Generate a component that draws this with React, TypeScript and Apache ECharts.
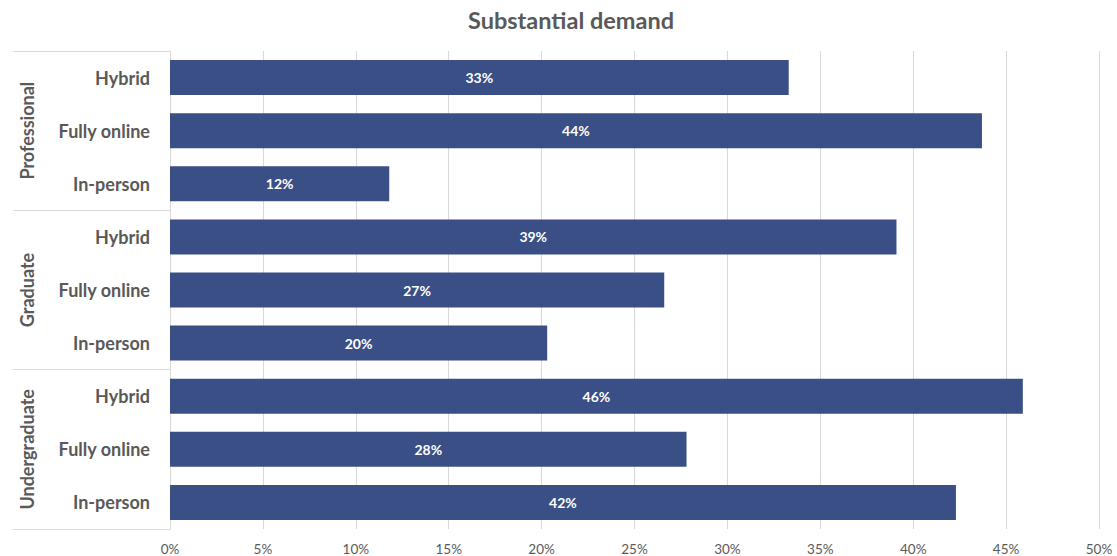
import React, { useEffect, useRef } from "react";
import * as echarts from "echarts";

const groups = ["Professional", "Graduate", "Undergraduate"];
const modes = [
  "Hybrid", "Fully online", "In-person",
  "Hybrid", "Fully online", "In-person",
  "Hybrid", "Fully online", "In-person",
];
const values = [33.3, 43.7, 11.8, 39.1, 26.6, 20.3, 45.9, 27.8, 42.3];
const xTicks = [0, 5, 10, 15, 20, 25, 30, 35, 40, 45, 50];

const TEXT = "#595959";
const GRID = "#d9d9d9";
const BAR = "#3a4f86";
const FONT = "Lato, 'Open Sans', sans-serif";

export default function App() {
  const ref = useRef<HTMLDivElement>(null);
  useEffect(() => {
    if (!ref.current) return;
    const chart = echarts.init(ref.current, undefined, { renderer: "svg" });
    chart.setOption({
      animation: false,
      textStyle: { fontFamily: FONT },
      title: {
        text: "Substantial demand",
        left: 566,
        textAlign: "center",
        top: 3,
        textStyle: { color: TEXT, fontSize: 23.5, fontWeight: "bold", fontFamily: FONT },
      },
      grid: { left: 170, right: 18, top: 51, bottom: 27, containLabel: false },
      xAxis: {
        type: "value",
        min: xTicks[0],
        max: xTicks[xTicks.length - 1],
        interval: 5,
        axisLine: { show: false },
        axisTick: { show: false },
        splitLine: { lineStyle: { color: GRID, width: 1 } },
        axisLabel: {
          color: TEXT,
          fontSize: 13.5,
          margin: 13,
          fontFamily: FONT,
          formatter: (v: number) => `${v}%`,
        },
      },
      yAxis: [
        {
          type: "category",
          data: modes,
          inverse: true,
          position: "left",
          axisLine: { show: true, lineStyle: { color: GRID, width: 1 } },
          axisTick: { show: false },
          axisLabel: {
            color: TEXT,
            fontSize: 18,
            fontWeight: "bold",
            margin: 20,
            fontFamily: FONT,
            interval: 0,
          },
        },
        {
          type: "category",
          data: groups,
          inverse: true,
          position: "left",
          axisLine: { show: false },
          axisTick: { show: true, length: 157, interval: 0, lineStyle: { color: GRID, width: 1 } },
          axisLabel: {
            color: TEXT,
            fontSize: 18,
            fontWeight: "bold",
            rotate: 90,
            margin: 134,
            fontFamily: FONT,
            interval: 0,
          },
        },
      ],
      series: [
        {
          type: "bar",
          yAxisIndex: 0,
          data: values,
          barWidth: 35,
          itemStyle: { color: BAR },
          label: {
            show: true,
            position: "inside",
            color: "#ffffff",
            fontSize: 14,
            fontWeight: "bold",
            fontFamily: FONT,
            formatter: (p: any) => `${Math.round(p.value)}%`,
          },
        },
      ],
    });
    return () => chart.dispose();
  }, []);
  return (
    <div
      ref={ref}
      style={{ position: "fixed", left: 0, top: 0, width: 1117, height: 556, background: "#fff" }}
    />
  );
}
